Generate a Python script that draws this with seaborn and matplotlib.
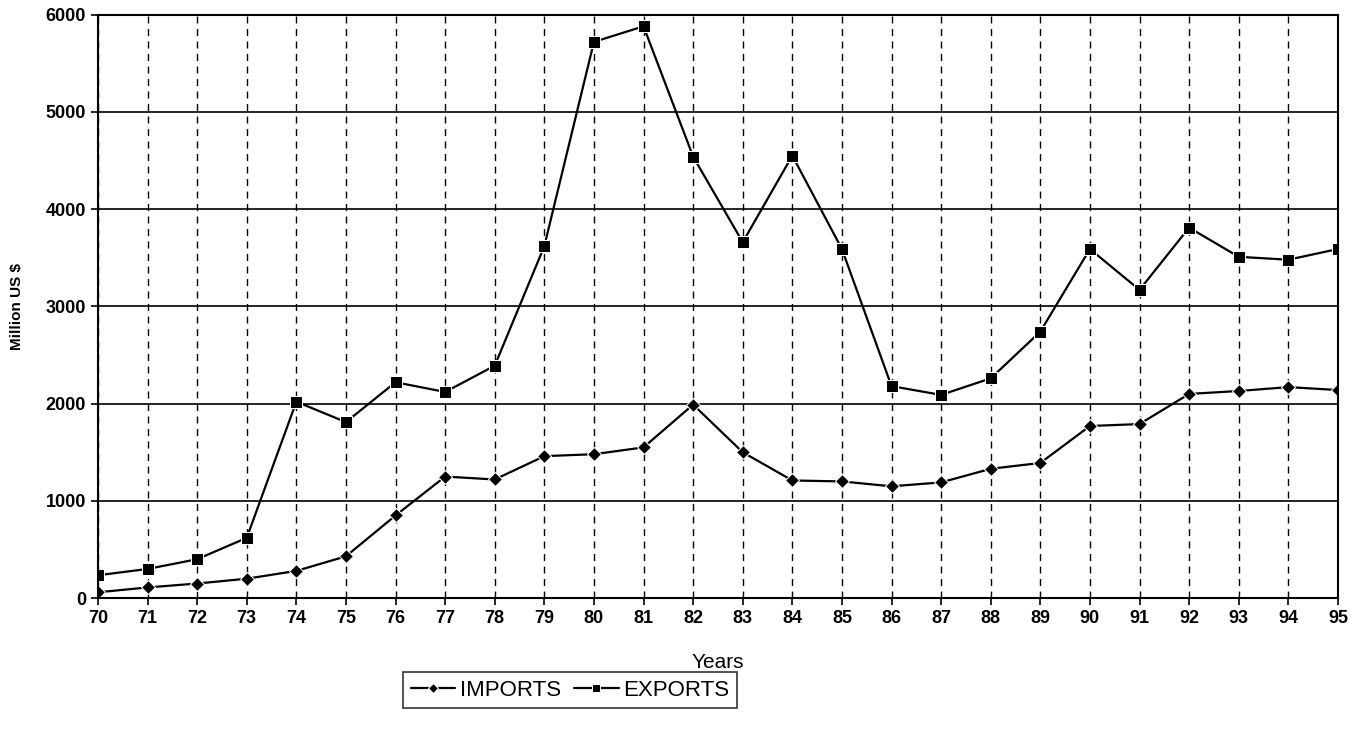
import pandas as pd
import matplotlib
matplotlib.use("Agg")
import matplotlib.pyplot as plt
import seaborn as sns

# Datos (millones de US $)
anios = list(range(70, 96))
importaciones = [60, 110, 150, 200, 280, 430, 850, 1250, 1220, 1460, 1480, 1550, 1990,
                 1500, 1210, 1200, 1150, 1190, 1330, 1390, 1770, 1790, 2100, 2130, 2170, 2140]
exportaciones = [235, 300, 400, 620, 2020, 1810, 2220, 2120, 2390, 3620, 5720, 5880, 4540,
                 3660, 4550, 3590, 2180, 2090, 2260, 2740, 3590, 3170, 3810, 3510, 3480, 3590]

df = pd.DataFrame({"anio": anios, "IMPORTS": importaciones, "EXPORTS": exportaciones})

sns.set_style("white")
plt.rcParams['font.family'] = ['Liberation Sans', 'DejaVu Sans']
plt.rcParams['text.color'] = 'black'
plt.rcParams['axes.labelcolor'] = 'black'

fig = plt.figure(figsize=(13.68, 7.33), dpi=100)
ax = fig.add_axes([0.0716, 0.184, 0.9064, 0.796])

sns.lineplot(data=df, x="anio", y="IMPORTS", ax=ax, color="black", marker="D",
             markersize=7, linewidth=1.6, label="IMPORTS")
sns.lineplot(data=df, x="anio", y="EXPORTS", ax=ax, color="black", marker="s",
             markersize=8, linewidth=1.6, label="EXPORTS")

ax.set_xlim(70, 95)
ax.set_ylim(0, 6000)
ax.set_xticks(anios)
ax.set_yticks(range(0, 6001, 1000))
ax.tick_params(axis="both", direction="out", length=5, width=1.2, labelsize=13,
               bottom=True, left=True, colors="black")
for lbl in ax.get_xticklabels() + ax.get_yticklabels():
    lbl.set_fontweight("bold")

# Lineas de guia
ax.yaxis.grid(True, color="black", linestyle="-", linewidth=1.2)
ax.xaxis.grid(True, color="black", linestyle=(0, (5, 4)), linewidth=1.0)
for s in ax.spines.values():
    s.set_color("black")
    s.set_linewidth(1.5)

ax.set_xlabel("Years", fontsize=15, labelpad=19)
ax.set_ylabel("Million US $", fontsize=11, fontweight="bold", labelpad=16)

leg = ax.legend(loc="center", bbox_to_anchor=(570 / 1368, 43 / 733),
                bbox_transform=fig.transFigure, ncol=2, fontsize=16, frameon=True,
                fancybox=False, edgecolor="black", handlelength=2.0, handletextpad=0.2,
                columnspacing=0.6, borderpad=0.35, markerscale=0.8)
leg.get_frame().set_linewidth(1.2)

plt.savefig("out.png", dpi=100)
plt.close()
